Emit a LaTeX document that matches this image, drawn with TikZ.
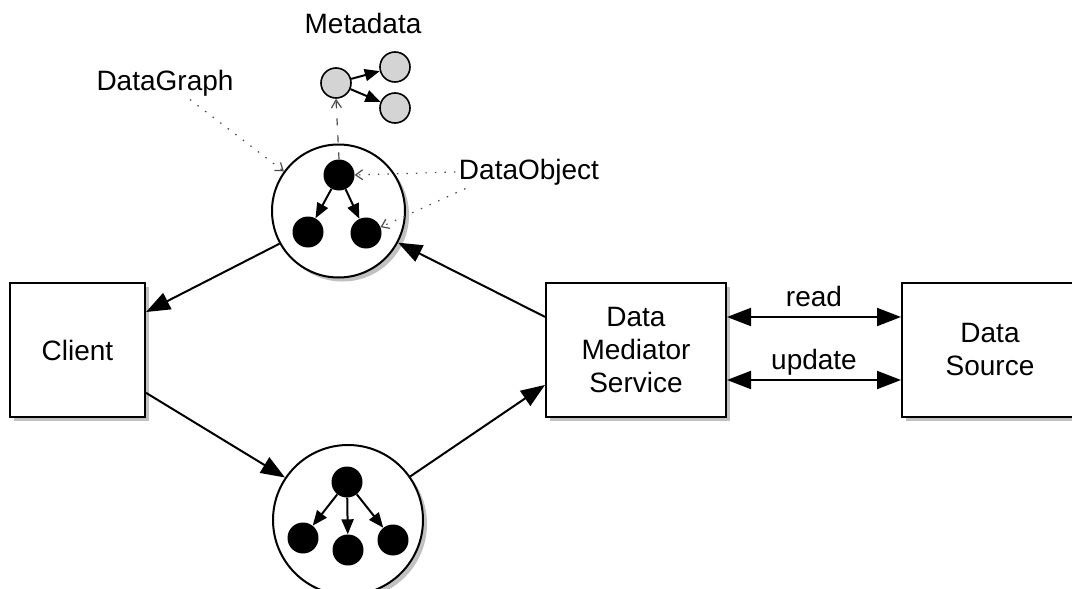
\documentclass[tikz,border=0pt]{standalone}
\usepackage{fontspec}
\setmainfont{Liberation Sans}
\usetikzlibrary{arrows.meta,shadows}

\begin{document}
\begin{tikzpicture}[x=1pt,y=-1pt,font=\fontsize{28}{33}\selectfont,
  shade/.style={drop shadow={shadow xshift=4pt,shadow yshift=-4pt,opacity=0.35,fill=black!70}},
  box/.style={draw,line width=2pt,fill=white,align=center,inner sep=0pt,shade},
  graph/.style={draw,circle,line width=2pt,fill=white,inner sep=0pt,shade},
  obj/.style={circle,fill=black,inner sep=0pt,minimum size=31pt},
  meta/.style={circle,draw,line width=1.6pt,fill=black!17,inner sep=0pt,minimum size=30pt},
  big/.style={-{Triangle[length=24pt,width=18pt]},line width=2pt},
  both/.style={{Triangle[length=24pt,width=18pt]}-{Triangle[length=24pt,width=18pt]},line width=2pt},
  small/.style={-{Triangle[length=15pt,width=12pt]},line width=2pt},
  note/.style={-{Straight Barb[length=7pt,width=10pt]},black!70,line width=1.2pt,dash pattern=on 1.5pt off 8pt},
  lab/.style={above=4pt,text depth=0.25em}]
\useasboundingbox (0,0) rectangle (1072,589);

% boxes
\node[box,minimum width=135pt,minimum height=134pt] (client) at (77.5,350) {Client};
\node[box,minimum width=180pt,minimum height=134pt] (dms) at (636,350) {Data\\Mediator\\Service};
\node[box,minimum width=176pt,minimum height=134pt] (src) at (990,350) {Data\\Source};

% data graphs
\node[graph,minimum size=133pt] (gA) at (338.5,211) {};
\node[graph,minimum size=150pt] (gB) at (348,520) {};

\node[obj] (oA1) at (339,175) {};
\node[obj] (oA2) at (308,232) {};
\node[obj] (oA3) at (366,233) {};
\draw[small] (oA1) -- (oA2);
\draw[small] (oA1) -- (oA3);

\node[obj] (oB1) at (347,482) {};
\node[obj] (oB2) at (303,538) {};
\node[obj] (oB3) at (348,550) {};
\node[obj] (oB4) at (393,540) {};
\draw[small] (oB1) -- (oB2);
\draw[small] (oB1) -- (oB3);
\draw[small] (oB1) -- (oB4);

% metadata
\node[meta] (mA) at (336,83) {};
\node[meta] (mB) at (395,67) {};
\node[meta] (mC) at (395,108) {};
\draw[small] (mA) -- (mB);
\draw[small] (mA) -- (mC);
\draw[-{Straight Barb[length=8pt,width=10pt]},black!70,line width=1.2pt,dash pattern=on 7pt off 10pt] (oA1.north) -- (mA.south);

% labels
\node (lmeta) at (363,23) {Metadata};
\node (lgraph) at (165,83) {DataGraph};
\node (lobj) at (529,172) {DataObject};
\draw[note] ([xshift=25pt]lgraph.south) -- (gA.144);
\draw[note] (lobj.west) -- (oA1.east);
\draw[note] ([xshift=10pt]lobj.south west) -- (oA3.22);

% flow
\draw[big] (gA.209) -- (client.29);
\draw[big] (client.-32) -- (gB.146);
\draw[big] (gB.35) -- (dms.201);
\draw[big] (dms.160) -- (gA.-28);
\draw[both] ([yshift=33pt]dms.east) -- node[lab] {read} ([yshift=33pt]src.west);
\draw[both] ([yshift=-30pt]dms.east) -- node[lab] {update} ([yshift=-30pt]src.west);
\end{tikzpicture}
\end{document}
